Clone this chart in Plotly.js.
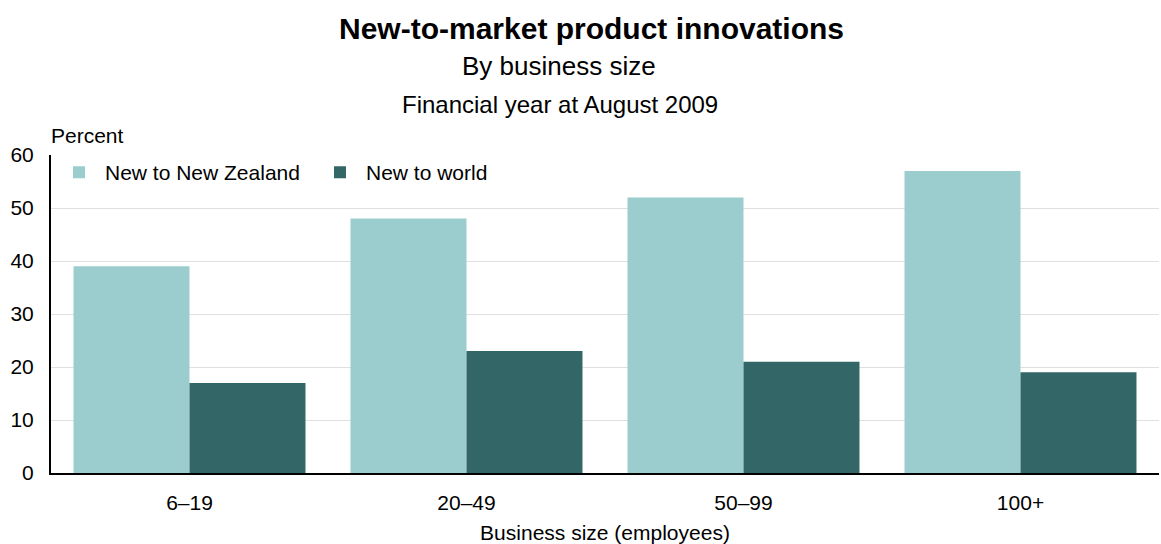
<!DOCTYPE html>
<html><head><meta charset="utf-8">
<script src="https://cdn.plot.ly/plotly-3.0.1.min.js"></script>
<style>html,body{margin:0;padding:0;background:#fff}#chart{width:1161px;height:544px}</style>
</head><body><div id="chart"></div>
<script>
const categories = ["6–19", "20–49", "50–99", "100+"];
const newToNZ = [39, 48, 52, 57];
const newToWorld = [17, 23, 21, 19];
const seriesNames = ["New to New Zealand", "New to world"];
const yTicks = [0, 10, 20, 30, 40, 50, 60];

const F = "Liberation Sans, Arial, sans-serif";
const data = [
  {type: "bar", name: seriesNames[0], x: categories, y: newToNZ, marker: {color: "#9ccdce"}, hoverinfo: "y"},
  {type: "bar", name: seriesNames[1], x: categories, y: newToWorld, marker: {color: "#336666"}, hoverinfo: "y"}
];
const layout = {
  width: 1161, height: 544,
  margin: {l: 51, r: 2, t: 155, b: 71},
  paper_bgcolor: "#fff", plot_bgcolor: "#fff",
  font: {family: F, size: 21, color: "#000"},
  barmode: "group", bargap: 0.1625, bargroupgap: 0,
  showlegend: true,
  legend: {orientation: "h", x: 0.0018, y: 1.009, xanchor: "left", yanchor: "top", itemwidth: 42, entrywidth: 204, entrywidthmode: "pixels", bgcolor: "rgba(0,0,0,0)", font: {size: 21, family: F}},
  xaxis: {
    type: "category", tickvals: categories, ticktext: categories,
    showline: true, linecolor: "#000", linewidth: 2, ticks: "", ticklen: 0,
    ticklabelstandoff: 10,
    tickfont: {size: 21, family: F}, showgrid: false,
    title: {text: "Business size (employees)", font: {size: 21, family: F}, standoff: 13}
  },
  yaxis: {
    range: [0, 60], tickvals: yTicks, ticktext: yTicks.map(String),
    showline: true, linecolor: "#000", linewidth: 2, ticks: "",
    ticklabelstandoff: 11,
    showgrid: true, gridcolor: "#e0e0e0", gridwidth: 1, zeroline: false,
    tickfont: {size: 21, family: F}
  },
  annotations: [
    {text: "<b>New-to-market product innovations</b>", xref: "paper", yref: "paper", x: 0.4875, y: 1, yshift: 127, xanchor: "center", yanchor: "middle", showarrow: false, font: {size: 30, family: F}},
    {text: "By business size", xref: "paper", yref: "paper", x: 0.4585, y: 1, yshift: 89, xanchor: "center", yanchor: "middle", showarrow: false, font: {size: 26, family: F}},
    {text: "Financial year at August 2009", xref: "paper", yref: "paper", x: 0.4595, y: 1, yshift: 51, xanchor: "center", yanchor: "middle", showarrow: false, font: {size: 24, family: F}},
    {text: "Percent", xref: "paper", yref: "paper", x: 0, xshift: -2, y: 1, yshift: 20, xanchor: "left", yanchor: "middle", showarrow: false, font: {size: 21, family: F}}
  ]
};
Plotly.newPlot("chart", data, layout, {displayModeBar: false, responsive: false});
</script></body></html>
